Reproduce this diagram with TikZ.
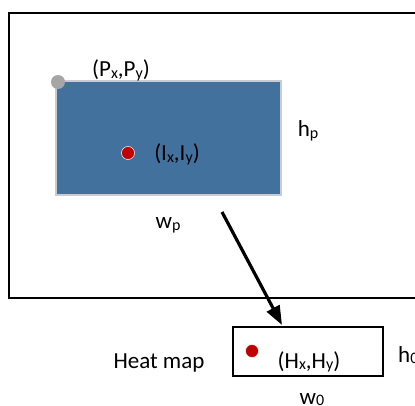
\documentclass[tikz,border=0pt]{standalone}
\usepackage{fontspec}
\setmainfont{Carlito}
\usetikzlibrary{arrows.meta}
\definecolor{patchblue}{HTML}{41719C}
\definecolor{patchline}{HTML}{C8CBD0}
\definecolor{cornergray}{HTML}{A6A6A6}
\definecolor{peakred}{HTML}{C00000}
\newcommand\lowsub[1]{\raisebox{-1.3pt}{\fontsize{16}{16}\selectfont #1}}
\tikzset{
  imgframe/.style={draw=black,line width=2.8pt,inner sep=0pt,outer sep=0pt},
  patch/.style={draw=patchline,line width=1.6pt,fill=patchblue,inner sep=0pt,outer sep=0pt,minimum width=225pt,minimum height=114pt},
  heatbox/.style={draw=black,line width=2.5pt,inner sep=0pt,outer sep=0pt,minimum width=150pt,minimum height=49pt},
  corner/.style={circle,fill=cornergray,inner sep=0pt,minimum size=14pt},
  peak/.style={circle,fill=peakred,draw=white,line width=0.5pt,inner sep=0pt,minimum size=13pt},
  lbl/.style={font=\fontsize{23}{25}\selectfont,inner sep=0pt,anchor=base},
  arrow/.style={-{Triangle[length=19pt,width=14pt]},line width=3.2pt}
}

\begin{document}
\begin{tikzpicture}[x=1pt,y=-1pt]
  \useasboundingbox (0,0) rectangle (415,406);
  \clip (0,0) rectangle (415,406);
  % input image, running off the right edge
  \node[imgframe,minimum width=440pt,minimum height=285pt,anchor=north west] (image) at (9,13) {};
  % person patch
  \node[patch,anchor=north west] (patch) at (56,81) {};
  \node[corner] (pcorner) at ([shift={(2,1)}]patch.north west) {};
  \node[peak] (ipeak) at (128,153) {};
  \node[lbl] (pxy) at (121,77) {(P\lowsub{x},P\lowsub{y})};
  \node[lbl] (ixy) at (177,161) {(I\lowsub{x},I\lowsub{y})};
  \node[lbl] (hp) at (308,137) {h\lowsub{p}};
  \node[lbl] (wp) at (168,229) {w\lowsub{p}};
  % heat map
  \node[heatbox,anchor=north west] (heat) at (233,327) {};
  \node[peak] (hpeak) at (252,351) {};
  \node[lbl] (hxy) at (309,368) {(H\lowsub{x},H\lowsub{y})};
  \node[lbl] (heatname) at (159,368) {Heat map};
  \node[lbl,anchor=base west] (h0) at (398,362) {h\lowsub{0}};
  \node[lbl] (w0) at (312,404) {w\lowsub{0}};
  \coordinate (from) at (222,212);
  \coordinate (to) at (282,325);
  \draw[arrow] (from) -- (to);
\end{tikzpicture}
\end{document}
